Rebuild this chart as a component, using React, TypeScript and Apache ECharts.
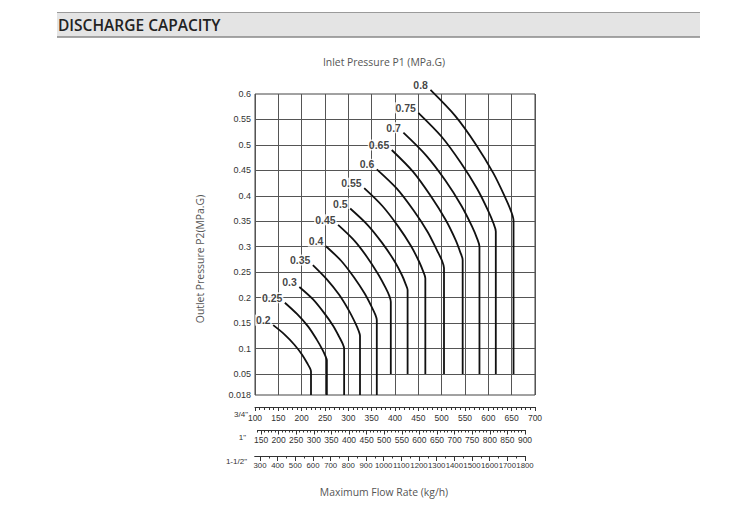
import React, { useEffect, useRef } from "react";
import * as echarts from "echarts";

const INLET_PRESSURES = ["0.2", "0.25", "0.3", "0.35", "0.4", "0.45", "0.5", "0.55", "0.6", "0.65", "0.7", "0.75", "0.8"];

// [flow on the 3/4" scale (kg/h), outlet pressure P2 (MPa.G)]
const CURVE_020 = [[139, 0.146], [163, 0.128], [184, 0.108], [201, 0.088], [212, 0.071], [218, 0.061], [220, 0.055], [220, 0.018]];
const CURVE_025 = [[164, 0.19], [191, 0.167], [214, 0.143], [232, 0.118], [245, 0.097], [251, 0.085], [254, 0.077], [254, 0.018]];
const CURVE_030 = [[195, 0.221], [224, 0.197], [248, 0.17], [268, 0.144], [281, 0.122], [288, 0.109], [291, 0.1], [291, 0.018]];
const CURVE_035 = [[224, 0.264], [254, 0.236], [280, 0.206], [301, 0.175], [315, 0.15], [322, 0.135], [325, 0.125], [325, 0.018]];
const CURVE_040 = [[252, 0.301], [285, 0.272], [312, 0.24], [335, 0.208], [350, 0.182], [358, 0.166], [361, 0.156], [361, 0.018]];
const CURVE_045 = [[278, 0.343], [312, 0.313], [340, 0.28], [364, 0.246], [380, 0.219], [388, 0.203], [391, 0.192], [391, 0.05]];
const CURVE_050 = [[304, 0.375], [341, 0.343], [372, 0.308], [398, 0.273], [415, 0.244], [423, 0.226], [427, 0.215], [427, 0.05]];
const CURVE_055 = [[334, 0.415], [373, 0.38], [406, 0.341], [434, 0.302], [452, 0.27], [461, 0.25], [465, 0.238], [465, 0.05]];
const CURVE_060 = [[361, 0.452], [404, 0.414], [440, 0.371], [470, 0.329], [490, 0.293], [501, 0.272], [505, 0.258], [505, 0.05]];
const CURVE_065 = [[393, 0.49], [439, 0.447], [477, 0.399], [509, 0.352], [530, 0.313], [540, 0.289], [545, 0.274], [545, 0.05]];
const CURVE_070 = [[418, 0.524], [467, 0.479], [508, 0.43], [542, 0.381], [565, 0.34], [576, 0.316], [581, 0.3], [581, 0.05]];
const CURVE_075 = [[450, 0.563], [500, 0.516], [541, 0.465], [576, 0.414], [599, 0.372], [611, 0.346], [616, 0.33], [616, 0.05]];
const CURVE_080 = [[476, 0.608], [529, 0.557], [574, 0.5], [611, 0.444], [636, 0.397], [649, 0.369], [654, 0.351], [654, 0.05]];

const CURVES = [CURVE_020, CURVE_025, CURVE_030, CURVE_035, CURVE_040, CURVE_045, CURVE_050, CURVE_055, CURVE_060, CURVE_065, CURVE_070, CURVE_075, CURVE_080];

// outlet pressure axis
const Y_TICKS = [0.05, 0.1, 0.15, 0.2, 0.25, 0.3, 0.35, 0.4, 0.45, 0.5, 0.55, 0.6];
const Y_BOTTOM = 0.018;
const Y_BOTTOM_LABEL = "0.018";
// the lowest band (0.018 - 0.05) is drawn shorter than the others in the original
const Y_AXIS_BOTTOM = 0.00875;

// flow rate rulers (kg/h)
const X34_MIN = 100;
const X34_MAX = 700;
const X1_MIN = 140;
const X1_MAX = 900;
const X1_LABELS = [150, 200, 250, 300, 350, 400, 450, 500, 550, 600, 650, 700, 750, 800, 850, 900];
const X112_MIN = 270;
const X112_MAX = 1800;
const X112_LABELS = [300, 400, 500, 600, 700, 800, 900, 1000, 1100, 1200, 1300, 1400, 1500, 1600, 1700, 1800];
const X112_MINOR = [350, 450, 550, 650, 750, 850, 950, 1050, 1150, 1250, 1350, 1450, 1550, 1650, 1750];
const RULER_NAMES = ['3/4"', '1"', '1-1/2"'];

const toAxisY = (v: number) =>
  v >= 0.05 ? v : Y_AXIS_BOTTOM + ((v - Y_BOTTOM) * (0.05 - Y_AXIS_BOTTOM)) / (0.05 - Y_BOTTOM);

const fmt = (v: number) => String(parseFloat(v.toFixed(3)));
const plain = (v: number) => String(Math.round(v));

const TXT = "#333";
const GRID_C = "#555";
const SANS = "Liberation Sans, Arial, sans-serif";
const TITLE_FONT = "Open Sans, Noto Sans, sans-serif";

export default function App() {
  const ref = useRef<HTMLDivElement>(null);

  useEffect(() => {
    document.body.style.margin = "0";
    document.body.style.overflow = "hidden";
    const chart = echarts.init(ref.current!, undefined, { renderer: "svg" });

    const curveSeries = CURVES.map((pts, i) => ({
      type: "line",
      name: INLET_PRESSURES[i],
      xAxisIndex: 0,
      yAxisIndex: 0,
      data: pts.map(([x, y]) => [x, toAxisY(y)]),
      symbol: "none",
      smooth: 0.3,
      clip: false,
      silent: true,
      z: 10,
      lineStyle: { color: "#111", width: 1.8 },
    }));

    const gridLineSeries = {
      type: "line",
      xAxisIndex: 0,
      yAxisIndex: 0,
      data: [],
      silent: true,
      z: 1,
      markLine: {
        silent: true,
        symbol: ["none", "none"],
        z: 1,
        label: { show: false },
        lineStyle: { color: GRID_C, width: 1, type: "solid" },
        data: Y_TICKS.slice(0, Y_TICKS.length - 1).map((v) => ({ yAxis: v })),
      },
    };

    const labelSeries = {
      type: "scatter",
      xAxisIndex: 0,
      yAxisIndex: 0,
      symbolSize: 1,
      clip: false,
      silent: true,
      z: 12,
      itemStyle: { color: "rgba(0,0,0,0)" },
      data: CURVES.map((pts, i) => ({ value: [pts[0][0], toAxisY(pts[0][1])], name: INLET_PRESSURES[i] })),
      label: {
        show: true,
        position: "left",
        distance: 2,
        offset: [1, -5],
        formatter: "{b}",
        fontSize: 10.5,
        fontWeight: "bold",
        fontFamily: SANS,
        color: "#111",
        backgroundColor: "#fff",
        padding: [0, 1],
      },
    };

    const rulerLabel = (margin: number, size: number) => ({
      fontSize: size,
      color: TXT,
      fontFamily: SANS,
      margin,
      formatter: plain,
      showMinLabel: true,
      showMaxLabel: true,
    });

    const option = {
      animation: false,
      grid: [
        { left: 255, top: 94, width: 280, height: 301, show: true, borderColor: "#444", borderWidth: 1, backgroundColor: "transparent" },
        { left: 257.5, top: 429, width: 267.5, height: 1 },
        { left: 254.7, top: 455, width: 270.3, height: 1 },
      ],
      xAxis: [
        {
          gridIndex: 0,
          type: "value",
          min: X34_MIN,
          max: X34_MAX,
          interval: 50,
          position: "bottom",
          offset: 12,
          axisLine: { show: true, onZero: false, lineStyle: { color: TXT, width: 1 } },
          axisTick: { show: true, length: 4, lineStyle: { color: TXT, width: 1 } },
          minorTick: { show: true, splitNumber: 5, length: 3, lineStyle: { color: TXT, width: 1 } },
          axisLabel: rulerLabel(6, 8.5),
          splitLine: { show: true, lineStyle: { color: GRID_C, width: 1 } },
        },
        {
          gridIndex: 1,
          type: "value",
          min: X1_MIN,
          max: X1_MAX,
          interval: 10,
          position: "bottom",
          axisLine: { show: true, onZero: false, lineStyle: { color: TXT, width: 1 } },
          axisTick: { show: true, length: 2.5, lineStyle: { color: TXT, width: 1 } },
          axisLabel: { ...rulerLabel(5, 8.5), customValues: X1_LABELS },
          splitLine: { show: false },
        },
        {
          gridIndex: 1,
          type: "value",
          min: X1_MIN,
          max: X1_MAX,
          position: "bottom",
          axisLine: { show: false, onZero: false },
          axisTick: { show: true, length: 4.5, customValues: X1_LABELS, lineStyle: { color: TXT, width: 1 } },
          axisLabel: { show: false },
          splitLine: { show: false },
        },
        {
          gridIndex: 2,
          type: "value",
          min: X112_MIN,
          max: X112_MAX,
          position: "bottom",
          axisLine: { show: true, onZero: false, lineStyle: { color: TXT, width: 1 } },
          axisTick: { show: true, length: 2.5, customValues: X112_MINOR, lineStyle: { color: TXT, width: 1 } },
          axisLabel: { show: false },
          splitLine: { show: false },
        },
        {
          gridIndex: 2,
          type: "value",
          min: X112_MIN,
          max: X112_MAX,
          position: "bottom",
          axisLine: { show: false, onZero: false },
          axisTick: { show: true, length: 5, customValues: X112_LABELS, lineStyle: { color: TXT, width: 1 } },
          axisLabel: { ...rulerLabel(5, 7.8), customValues: X112_LABELS },
          splitLine: { show: false },
        },
      ],
      yAxis: [
        {
          gridIndex: 0,
          type: "value",
          min: Y_AXIS_BOTTOM,
          max: 0.6,
          axisLine: { show: false },
          axisTick: { show: false },
          splitLine: { show: false },
          axisLabel: {
            customValues: [Y_AXIS_BOTTOM, ...Y_TICKS],
            formatter: (v: number) => (Math.abs(v - Y_AXIS_BOTTOM) < 1e-6 ? Y_BOTTOM_LABEL : fmt(v)),
            fontSize: 9,
            color: TXT,
            fontFamily: SANS,
            margin: 4,
            showMinLabel: true,
            showMaxLabel: true,
          },
        },
        { gridIndex: 1, type: "value", show: false },
        { gridIndex: 2, type: "value", show: false },
      ],
      graphic: [
        { type: "rect", shape: { x: 57, y: 12, width: 643, height: 25 }, style: { fill: "#e4e4e4" }, silent: true },
        { type: "line", shape: { x1: 57, y1: 12.5, x2: 700, y2: 12.5 }, style: { stroke: "#9a9a9a", lineWidth: 1 }, silent: true },
        { type: "line", shape: { x1: 57, y1: 37, x2: 700, y2: 37 }, style: { stroke: "#888", lineWidth: 1.5 }, silent: true },
        {
          type: "text",
          x: 58,
          y: 24.5,
          silent: true,
          style: { text: "DISCHARGE CAPACITY", fontSize: 15.5, fontWeight: 600, fontFamily: TITLE_FONT, fill: "#222", align: "left", verticalAlign: "middle" },
        },
        {
          type: "text",
          x: 384,
          y: 62,
          silent: true,
          style: { text: "Inlet Pressure P1 (MPa.G)", fontSize: 10.4, fontFamily: TITLE_FONT, fill: "#555", align: "center", verticalAlign: "middle" },
        },
        {
          type: "text",
          x: 384,
          y: 492,
          silent: true,
          style: { text: "Maximum Flow Rate (kg/h)", fontSize: 10.4, fontFamily: TITLE_FONT, fill: "#555", align: "center", verticalAlign: "middle" },
        },
        {
          type: "text",
          x: 200,
          y: 259,
          rotation: Math.PI / 2,
          silent: true,
          style: { text: "Outlet Pressure P2(MPa.G)", fontSize: 10.4, fontFamily: TITLE_FONT, fill: "#555", align: "center", verticalAlign: "middle" },
        },
        {
          type: "text",
          x: 248,
          y: 414,
          silent: true,
          style: { text: RULER_NAMES[0], fontSize: 8, fontFamily: SANS, fill: TXT, align: "right", verticalAlign: "middle" },
        },
        {
          type: "text",
          x: 246,
          y: 437,
          silent: true,
          style: { text: RULER_NAMES[1], fontSize: 8, fontFamily: SANS, fill: TXT, align: "right", verticalAlign: "middle" },
        },
        {
          type: "text",
          x: 247,
          y: 461,
          silent: true,
          style: { text: RULER_NAMES[2], fontSize: 8, fontFamily: SANS, fill: TXT, align: "right", verticalAlign: "middle" },
        },
      ],
      series: [gridLineSeries, ...curveSeries, labelSeries],
    };

    chart.setOption(option as any);
    return () => chart.dispose();
  }, []);

  return <div ref={ref} style={{ width: 730, height: 518 }} />;
}
